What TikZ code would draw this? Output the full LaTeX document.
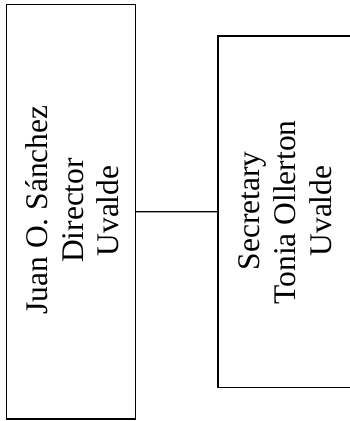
\documentclass[tikz,border=0pt]{standalone}
\usepackage{fontspec}
\setmainfont{Liberation Serif}
\begin{document}
\begin{tikzpicture}[x=1pt,y=1pt,
  box/.style={draw, line width=1.4pt, inner sep=0pt, rectangle},
  link/.style={draw, line width=1.3pt},
  lbl/.style={rotate=90, anchor=base, inner sep=0pt, font=\fontsize{31.5}{35.6}\selectfont}]
\useasboundingbox (0,0) rectangle (350,421);
\node[box, minimum width=129pt, minimum height=414.5pt] (L) at (71,209.25) {};
\node[box, minimum width=134pt, minimum height=351.7pt] (R) at (285,209.15) {};
\draw[link] (L.east) -- (R.west);
\node[lbl] (l1) at (47.8,211) {Juan O. Sánchez};
\node[lbl] (l2) at (83.3,210.5) {Director};
\node[lbl] (l3) at (118.5,210) {Uvalde};
\node[lbl] (r1) at (259.5,210) {Secretary};
\node[lbl] (r2) at (295,208.5) {Tonia Ollerton};
\node[lbl] (r3) at (331,210) {Uvalde};
\end{tikzpicture}
\end{document}
